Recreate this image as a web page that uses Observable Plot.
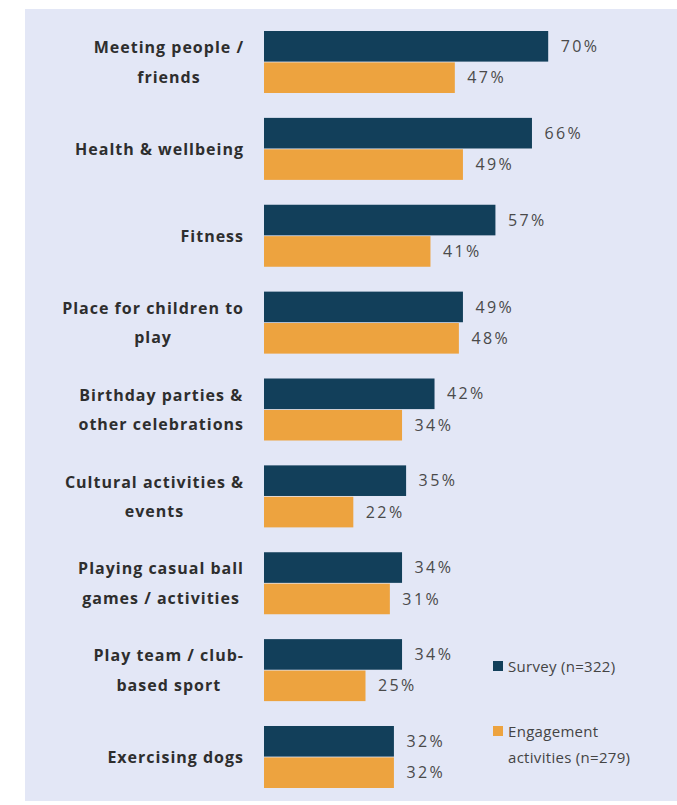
<!DOCTYPE html>
<html>
<head>
<meta charset="utf-8">
<script src="https://cdn.jsdelivr.net/npm/d3@7"></script>
<script src="https://cdn.jsdelivr.net/npm/@observablehq/plot@0.6"></script>
<style>
  html, body { margin: 0; padding: 0; background: #ffffff; }
  #wrap { position: relative; width: 677px; height: 805px; overflow: hidden; font-family: "Open Sans", Lato, sans-serif; }
  #panel { position: absolute; left: 25px; top: 9px; right: 0; bottom: 4px; background: #e3e7f6; }
  #chart { position: absolute; left: 0; top: 0; }
  .legend { position: absolute; left: 493px; font-size: 15px; letter-spacing: 0.3px; color: #444; line-height: 26px; }
  .legend .sw { position: absolute; left: 0; top: 8px; width: 10px; height: 10px; }
  .legend .tx { margin-left: 15px; }
</style>
</head>
<body>
<div id="wrap">
  <div id="panel"></div>
  <div id="chart"></div>
  <div id="legend"></div>
</div>
<script>
const categories = [
  "Meeting people /\nfriends",
  "Health & wellbeing",
  "Fitness",
  "Place for children to\nplay",
  "Birthday parties &\nother celebrations",
  "Cultural activities &\nevents",
  "Playing casual ball\ngames / activities",
  "Play team / club-\nbased sport",
  "Exercising dogs"
];
const seriesNames = ["Survey (n=322)", "Engagement activities (n=279)"];
const surveyValues = [70, 66, 57, 49, 42, 35, 34, 34, 32];
const engagementValues = [47, 49, 41, 48, 34, 22, 31, 25, 32];
const seriesColors = ["#123f5a", "#eda33f"];

const data = [];
categories.forEach((c, i) => {
  data.push({category: c, series: seriesNames[0], value: surveyValues[i]});
  data.push({category: c, series: seriesNames[1], value: engagementValues[i]});
});

const chart = Plot.plot({
  width: 677,
  height: 805,
  marginLeft: 264,
  marginRight: 7,
  marginTop: 31,
  marginBottom: 17,
  style: {background: "transparent", fontFamily: "'Open Sans', Lato, sans-serif", overflow: "visible"},
  x: {domain: [0, 100], axis: null},
  y: {domain: seriesNames, axis: null, paddingInner: 0.025, paddingOuter: 0, round: false},
  fy: {domain: categories, paddingInner: 0.2863, paddingOuter: 0, round: false, axis: null},
  color: {domain: seriesNames, range: seriesColors},
  marks: [
    Plot.barX(data, {x: "value", y: "series", fy: "category", fill: "series"}),
    Plot.text(data, {
      x: "value", y: "series", fy: "category",
      text: d => d.value + "%",
      dx: 12, textAnchor: "start", fontSize: 16, fill: "#4a4a4a",
      ariaLabel: () => "value-label"
    }),
    Plot.text(categories, {
      fy: d => d,
      text: d => d,
      frameAnchor: "left",
      textAnchor: "middle",
      lineAnchor: "middle",
      lineHeight: 1.85,
      dx: -21,
      dy: -4,
      fontSize: 16,
      fontWeight: "bold",
      fill: "#2e2e2e",
      ariaLabel: () => "category-label"
    })
  ]
});
document.getElementById("chart").appendChild(chart);

chart.querySelectorAll("text[aria-label='value-label']").forEach(t => {
  t.style.letterSpacing = "2.4px";
});
// right-align each (centre-aligned) category label block at x = 244
chart.querySelectorAll("text[aria-label='category-label']").forEach(t => {
  t.style.letterSpacing = "1px";
  const r = t.getBoundingClientRect();
  const shift = 244 - r.right;
  const tr = t.getAttribute("transform") || "";
  t.setAttribute("transform", `translate(${shift},0) ${tr}`);
});

const legend = document.getElementById("legend");
const legendTops = [653, 718];
const legendLines = [["Survey (n=322)"], ["Engagement", "activities (n=279)"]];
seriesNames.forEach((s, i) => {
  const item = document.createElement("div");
  item.className = "legend";
  item.style.top = legendTops[i] + "px";
  const sw = document.createElement("div");
  sw.className = "sw";
  sw.style.background = seriesColors[i];
  item.appendChild(sw);
  const tx = document.createElement("div");
  tx.className = "tx";
  tx.innerHTML = legendLines[i].join("<br>");
  item.appendChild(tx);
  legend.appendChild(item);
});
</script>
</body>
</html>
